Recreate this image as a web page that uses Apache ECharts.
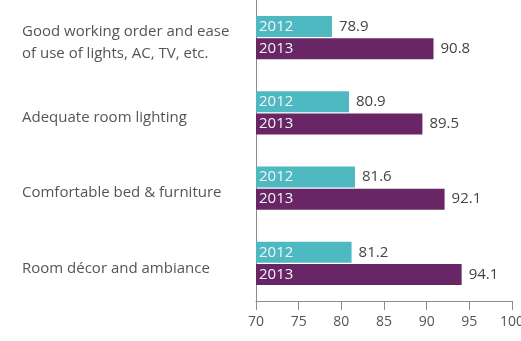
<!DOCTYPE html>
<html><head><meta charset="utf-8">
<script src="https://cdn.jsdelivr.net/npm/echarts@6/dist/echarts.min.js"></script>
<style>html,body{margin:0;padding:0;background:#fff}#c{width:521px;height:341px}</style>
</head><body><div id="c"></div>
<script>
const categories = [
  "Good working order and ease\nof use of lights, AC, TV, etc.",
  "Adequate room lighting",
  "Comfortable bed & furniture",
  "Room décor and ambiance"
];
const seriesNames = ["2012", "2013"];
const values2012 = [78.9, 80.9, 81.6, 81.2];
const values2013 = [90.8, 89.5, 92.1, 94.1];
const xTicks = [70, 75, 80, 85, 90, 95, 100];

const colors = ["#4fb9c1", "#682667"];
const FONT = "Open Sans";
const chart = echarts.init(document.getElementById('c'), null, {renderer: 'canvas'});

function valueSeries(name, data, color) {
  return {
    type: 'bar', name: name, data: data, yAxisIndex: 0,
    barWidth: 21, barGap: '5%',
    itemStyle: {color: color},
    label: {show: true, position: 'right', distance: 7, color: '#444',
            fontFamily: FONT, fontSize: 15, formatter: p => p.value.toFixed(1)},
    silent: true
  };
}
function nameSeries(name, data) {
  return {
    type: 'bar', name: name + '_lbl', data: data, yAxisIndex: 1,
    barWidth: 21, barGap: '5%',
    itemStyle: {color: 'rgba(0,0,0,0)'},
    label: {show: true, position: 'insideLeft', distance: 3, color: '#f4f4f4',
            fontFamily: FONT, fontSize: 15, formatter: () => name},
    silent: true
  };
}

const catText = {color: '#555', fontFamily: FONT, fontSize: 15, lineHeight: 25};

function catFormatter(v) {
  const lines = v.split('\n');
  if (lines.length === 1) return '{p|' + lines[0] + '}';
  return lines.map((s, i) => (i === 0 ? '{q|' : '{t|') + s + '}').join('\n');
}

chart.setOption({
  animation: false,
  grid: {left: 256, right: 9, top: 0, bottom: 40, containLabel: false, outerBoundsMode: 'none'},
  xAxis: {
    type: 'value', min: xTicks[0], max: xTicks[xTicks.length-1], interval: 5,
    axisLine: {show: true, lineStyle: {color: '#8c8c8c', width: 1}},
    axisTick: {show: true, length: 9, lineStyle: {color: '#8c8c8c'}},
    splitLine: {show: false},
    axisLabel: {color: '#555', fontFamily: FONT, fontSize: 14, margin: 14}
  },
  yAxis: [{
    type: 'category', data: categories, inverse: true,
    axisLine: {show: true, lineStyle: {color: '#8c8c8c', width: 1}},
    axisTick: {show: false},
    axisLabel: {
      align: 'left', margin: 234, color: '#555', fontFamily: FONT, fontSize: 15, lineHeight: 25,
      formatter: catFormatter,
      rich: {
        p: Object.assign({padding: [10, 0, 0, 0]}, catText),
        q: Object.assign({padding: [14, 0, 0, 0]}, catText),
        t: Object.assign({padding: [8, 0, 0, 0]}, catText)
      }
    }
  }, {
    type: 'category', data: categories, inverse: true, show: false
  }],
  series: [
    valueSeries(seriesNames[0], values2012, colors[0]),
    valueSeries(seriesNames[1], values2013, colors[1]),
    nameSeries(seriesNames[0], values2012),
    nameSeries(seriesNames[1], values2013)
  ]
});
</script></body></html>
